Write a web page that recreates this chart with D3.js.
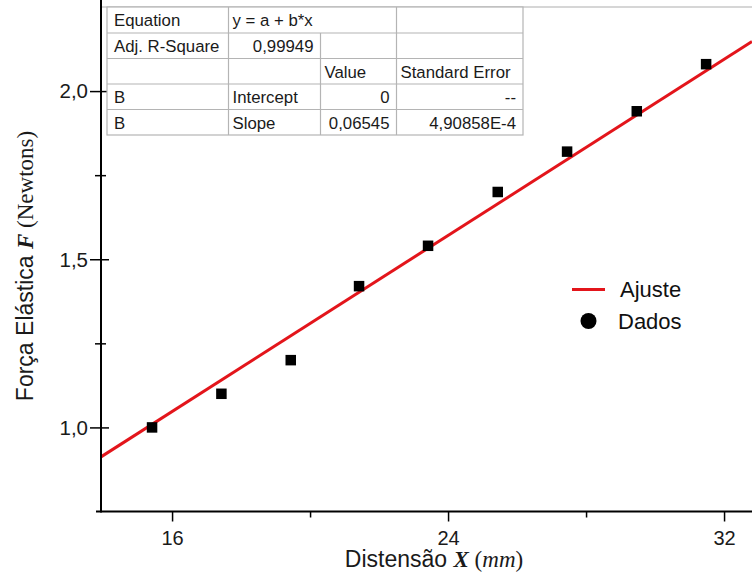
<!DOCTYPE html>
<html>
<head>
<meta charset="utf-8">
<script src="https://cdn.jsdelivr.net/npm/d3@7"></script>
<style>
  html, body { margin: 0; padding: 0; background: #fff; }
  svg { display: block; }
  text { font-family: "Liberation Sans", Arial, sans-serif; }
</style>
</head>
<body>
<svg id="chart" width="752" height="581"></svg>
<script>
// Measured spring data: distension X (mm) and elastic force F (N)
const distensao = [15.42, 17.43, 19.44, 21.42, 23.42, 25.44, 27.45, 29.47, 31.48];
const forca     = [1.00, 1.10, 1.20, 1.42, 1.54, 1.70, 1.82, 1.94, 2.08];

// Linear fit y = a + b*x (intercept fixed at zero)
const fitIntercept = 0;
const fitSlope = 0.06545;
const fitSlopeError = "4,90858E-4";
const fitAdjR2 = "0,99949";

// Axis ticks
const xMajorTicks = [16, 24, 32];
const xMinorTicks = [20, 28];
const yMajorTicks = [1.0, 1.5, 2.0];
const yMinorTicks = [1.25, 1.75];

const xDomain = [13.94, 32.81];
const yDomain = [0.75, 2.25];

const commaFmt = d => d3.format(".1f")(d).replace(".", ",");

const svg = d3.select("#chart");
svg.append("rect").attr("width", 752).attr("height", 581).attr("fill", "#fff");

const plotLeft = 101, plotRight = 752, plotTop = 7, plotBottom = 511.5;
const x = d3.scaleLinear().domain(xDomain).range([plotLeft, plotRight]);
const y = d3.scaleLinear().domain(yDomain).range([plotBottom, plotTop]);

// Clip region for the plot
svg.append("clipPath").attr("id", "plotClip")
  .append("rect").attr("x", plotLeft).attr("y", plotTop)
  .attr("width", plotRight - plotLeft).attr("height", plotBottom - plotTop);

// Top frame line (light grey)
svg.append("line")
  .attr("x1", plotLeft).attr("x2", plotRight).attr("y1", plotTop).attr("y2", plotTop)
  .attr("stroke", "#c8c8c8").attr("stroke-width", 1.5);

// Fit line
const fitLine = d3.line().x(d => x(d)).y(d => y(fitIntercept + fitSlope * d));
svg.append("path")
  .datum(xDomain)
  .attr("clip-path", "url(#plotClip)")
  .attr("d", fitLine)
  .attr("fill", "none")
  .attr("stroke", "#e3151b")
  .attr("stroke-width", 3);

// Data points (squares)
const sq = 10.5;
svg.append("g").selectAll("rect")
  .data(distensao.map((d, i) => [d, forca[i]]))
  .join("rect")
  .attr("x", d => x(d[0]) - sq / 2)
  .attr("y", d => y(d[1]) - sq / 2)
  .attr("width", sq).attr("height", sq)
  .attr("fill", "#000");

// Y axis
const yAxis = svg.append("g").attr("transform", `translate(${plotLeft},0)`)
  .call(d3.axisLeft(y).tickValues(yMajorTicks).tickFormat(commaFmt).tickSize(10).tickPadding(4));
yAxis.select(".domain").remove();
yAxis.selectAll(".tick line").attr("x1", 8).attr("x2", -11).attr("stroke", "#000").attr("stroke-width", 1.5);
yAxis.selectAll(".tick text").attr("font-size", 20.5).attr("fill", "#1a1a1a")
  .attr("font-family", "Liberation Sans, Arial, sans-serif").attr("x", -13).attr("dy", "0.33em");
const yMinor = svg.append("g").attr("transform", `translate(${plotLeft},0)`)
  .call(d3.axisLeft(y).tickValues(yMinorTicks).tickFormat("").tickSize(6));
yMinor.select(".domain").remove();
yMinor.selectAll(".tick line").attr("x1", 5).attr("stroke", "#000").attr("stroke-width", 1.5);
svg.append("line").attr("x1", plotLeft).attr("x2", plotLeft).attr("y1", 0).attr("y2", plotBottom + 1)
  .attr("stroke", "#000").attr("stroke-width", 2);

// X axis
const xAxis = svg.append("g").attr("transform", `translate(0,${plotBottom})`)
  .call(d3.axisBottom(x).tickValues(xMajorTicks).tickFormat(d3.format("d")).tickSize(10).tickPadding(9));
xAxis.select(".domain").remove();
xAxis.selectAll(".tick line").attr("stroke", "#000").attr("stroke-width", 1.5);
xAxis.selectAll(".tick text").attr("font-size", 20).attr("fill", "#1a1a1a")
  .attr("font-family", "Liberation Sans, Arial, sans-serif");
const xMinor = svg.append("g").attr("transform", `translate(0,${plotBottom})`)
  .call(d3.axisBottom(x).tickValues(xMinorTicks).tickFormat("").tickSize(6));
xMinor.select(".domain").remove();
xMinor.selectAll(".tick line").attr("stroke", "#000").attr("stroke-width", 1.5);
svg.append("line").attr("x1", 96).attr("x2", plotRight).attr("y1", plotBottom).attr("y2", plotBottom)
  .attr("stroke", "#000").attr("stroke-width", 2);

// Axis titles
const serif = "Liberation Serif, Times New Roman, serif";
const xTitle = svg.append("text").attr("x", 434).attr("y", 567)
  .attr("text-anchor", "middle").attr("font-size", 23).attr("fill", "#1a1a1a");
xTitle.append("tspan").text("Distensão ");
xTitle.append("tspan").attr("font-family", serif)
  .attr("font-weight", "bold").attr("font-style", "italic").text("X");
xTitle.append("tspan").attr("font-family", serif).text(" (");
xTitle.append("tspan").attr("font-family", serif).attr("font-style", "italic").text("mm");
xTitle.append("tspan").attr("font-family", serif).text(")");

const yTitle = svg.append("text")
  .attr("transform", "translate(33,266) rotate(-90)")
  .attr("text-anchor", "middle").attr("font-size", 23).attr("fill", "#1a1a1a");
yTitle.append("tspan").text("Força Elástica ");
yTitle.append("tspan").attr("font-family", serif)
  .attr("font-weight", "bold").attr("font-style", "italic").text("F");
yTitle.append("tspan").attr("font-family", serif).text(" (Newtons)");

// Legend
const legend = svg.append("g");
legend.append("line").attr("x1", 572).attr("x2", 605).attr("y1", 289.5).attr("y2", 289.5)
  .attr("stroke", "#e3151b").attr("stroke-width", 3);
legend.append("text").attr("x", 620).attr("y", 297).attr("font-size", 22).attr("fill", "#111").text("Ajuste");
legend.append("circle").attr("cx", 588.5).attr("cy", 321).attr("r", 8).attr("fill", "#000");
legend.append("text").attr("x", 618).attr("y", 328.5).attr("font-size", 22).attr("fill", "#111").text("Dados");

// Fit result table
const colX = [107, 228.5, 320.5, 396.5, 523];
const rowY = [7, 33, 58.5, 84, 109.5, 135];
const tableRows = [
  [{t: "Equation", c: 0, a: "start"}, {t: "y = a + b*x", c: 1, a: "start"}],
  [{t: "Adj. R-Square", c: 0, a: "start"}, {t: fitAdjR2, c: 1, a: "end"}],
  [{t: "Value", c: 2, a: "start"}, {t: "Standard Error", c: 3, a: "start"}],
  [{t: "B", c: 0, a: "start"}, {t: "Intercept", c: 1, a: "start"},
   {t: String(fitIntercept), c: 2, a: "end"}, {t: "--", c: 3, a: "end"}],
  [{t: "B", c: 0, a: "start"}, {t: "Slope", c: 1, a: "start"},
   {t: String(fitSlope).replace(".", ","), c: 2, a: "end"}, {t: fitSlopeError, c: 3, a: "end"}]
];
const table = svg.append("g");
table.append("rect").attr("x", colX[0]).attr("y", rowY[0])
  .attr("width", colX[4] - colX[0]).attr("height", rowY[5] - rowY[0])
  .attr("fill", "#fff").attr("stroke", "#b4b4b4").attr("stroke-width", 1.2);
rowY.slice(1, 5).forEach(ry => {
  table.append("line").attr("x1", colX[0]).attr("x2", colX[4]).attr("y1", ry).attr("y2", ry)
    .attr("stroke", "#b4b4b4").attr("stroke-width", 1.2);
});
[1, 2, 3].forEach(ci => {
  const y0 = ci === 2 ? rowY[1] : rowY[0];
  table.append("line").attr("x1", colX[ci]).attr("x2", colX[ci]).attr("y1", y0).attr("y2", rowY[5])
    .attr("stroke", "#b4b4b4").attr("stroke-width", 1.2);
});
tableRows.forEach((row, ri) => {
  row.forEach(cell => {
    const tx = cell.a === "start" ? colX[cell.c] + (cell.c === 0 ? 7 : 4) : colX[cell.c + 1] - 7;
    table.append("text").attr("x", tx).attr("y", rowY[ri] + 19)
      .attr("text-anchor", cell.a).attr("font-size", 16.8).attr("fill", "#1a1a1a").text(cell.t);
  });
});
</script>
</body>
</html>
